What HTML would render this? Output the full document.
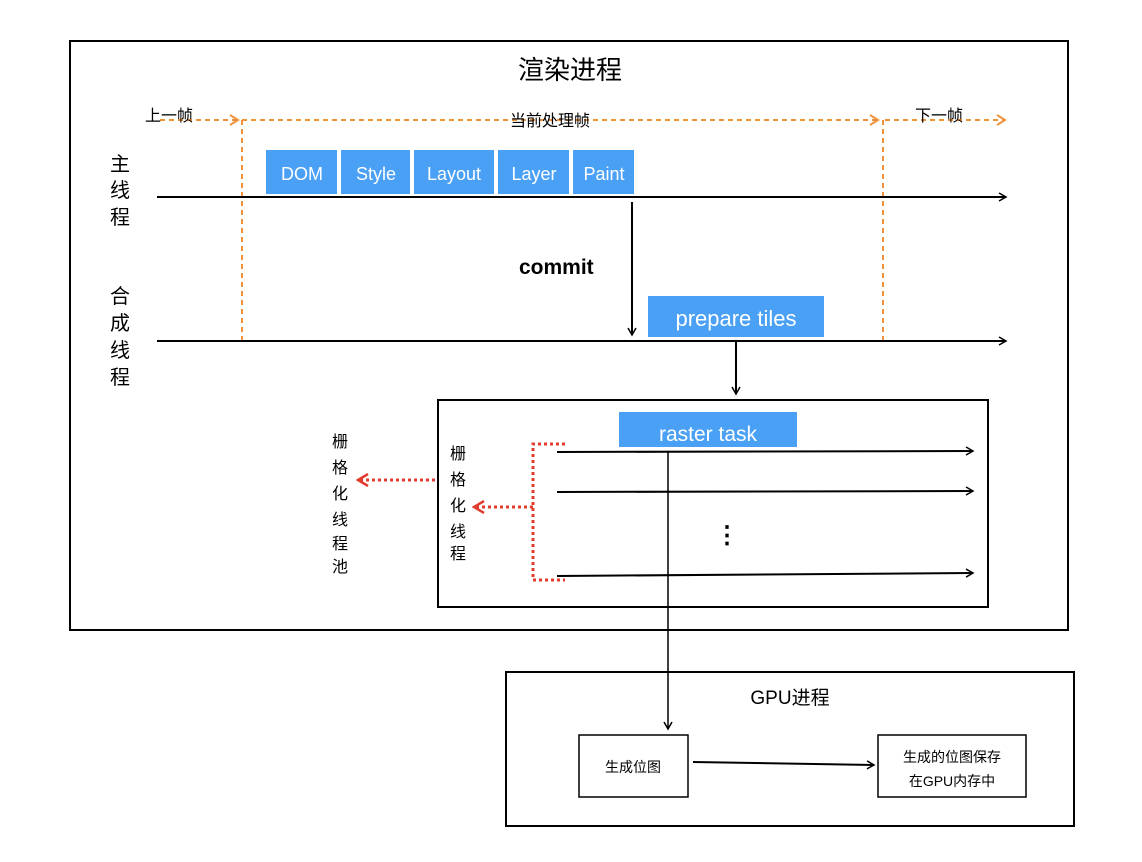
<!DOCTYPE html>
<html><head><meta charset="utf-8"><style>
html,body{margin:0;padding:0;background:#fff;}
svg text{font-family:"Liberation Sans","Noto Sans CJK SC",sans-serif;}
</style></head><body>
<svg width="1142" height="857" viewBox="0 0 1142 857" xmlns="http://www.w3.org/2000/svg">
<defs>
<marker id="ab" markerWidth="10" markerHeight="10" refX="8" refY="5" orient="auto" markerUnits="userSpaceOnUse"><path d="M1,1 L8,5 L1,9" fill="none" stroke="#000" stroke-width="1.5"/></marker>
<marker id="ao" markerWidth="12" markerHeight="12" refX="9" refY="6" orient="auto" markerUnits="userSpaceOnUse"><path d="M1,1 L9,6 L1,11" fill="none" stroke="#f0923a" stroke-width="2"/></marker>
<marker id="ar" markerWidth="14" markerHeight="14" refX="12" refY="7" orient="auto" markerUnits="userSpaceOnUse"><path d="M2,1 L12,7 L2,13" fill="none" stroke="#e23c2e" stroke-width="2.5"/></marker>
</defs>
<rect x="70" y="41" width="998" height="589" fill="none" stroke="#000" stroke-width="2"/>
<text x="570" y="79" font-size="26" text-anchor="middle">渲染进程</text>
<g stroke="#f0923a" stroke-width="2" stroke-dasharray="5,4" fill="none">
<line x1="160" y1="120" x2="238" y2="120" marker-end="url(#ao)"/>
<line x1="242" y1="120" x2="878" y2="120" marker-end="url(#ao)"/>
<line x1="885" y1="120" x2="1005" y2="120" marker-end="url(#ao)"/>
<line x1="242" y1="120" x2="242" y2="340"/>
<line x1="883" y1="120" x2="883" y2="340"/>
</g>
<text x="145" y="121" font-size="16">上一帧</text>
<text x="510" y="126" font-size="16">当前处理帧</text>
<text x="915" y="121" font-size="16">下一帧</text>
<g fill="#4aa0f5">
<rect x="266" y="150" width="71" height="44"/><rect x="341" y="150" width="69" height="44"/>
<rect x="414" y="150" width="80" height="44"/><rect x="498" y="150" width="71" height="44"/>
<rect x="573" y="150" width="61" height="44"/>
<rect x="648" y="296" width="176" height="41"/>
<rect x="619" y="412" width="178" height="35"/>
</g>
<g fill="#fff" font-size="18" text-anchor="middle">
<text x="302" y="180">DOM</text><text x="376" y="180">Style</text><text x="454" y="180">Layout</text>
<text x="534" y="180">Layer</text><text x="604" y="180">Paint</text>
<text x="736" y="326" font-size="22">prepare tiles</text>
<text x="708" y="441" font-size="21">raster task</text>
</g>
<g font-size="20" text-anchor="middle"><text x="120" y="171">主</text><text x="120" y="197">线</text><text x="120" y="224">程</text>
<text x="120" y="303">合</text><text x="120" y="330">成</text><text x="120" y="357">线</text><text x="120" y="384">程</text></g>
<g stroke="#000" stroke-width="2" fill="none">
<line x1="157" y1="197" x2="1006" y2="197" marker-end="url(#ab)"/>
<line x1="157" y1="341" x2="1006" y2="341" marker-end="url(#ab)"/>
<line x1="632" y1="202" x2="632" y2="335" marker-end="url(#ab)"/>
<line x1="736" y1="341" x2="736" y2="394" marker-end="url(#ab)"/>
<rect x="438" y="400" width="550" height="207"/>
<line x1="557" y1="452" x2="973" y2="451" marker-end="url(#ab)"/>
<line x1="557" y1="492" x2="973" y2="491" marker-end="url(#ab)"/>
<line x1="557" y1="576" x2="973" y2="573" marker-end="url(#ab)"/>
<line x1="693" y1="762" x2="874" y2="765" marker-end="url(#ab)"/>
<rect x="506" y="672" width="568" height="154"/>
</g>
<line x1="668" y1="452" x2="668" y2="729" stroke="#000" stroke-width="1.5" marker-end="url(#ab)"/>
<text x="519" y="274" font-size="21" font-weight="bold">commit</text>
<text x="727" y="543" font-size="24" font-weight="bold" text-anchor="middle">⋮</text>
<g stroke="#e23c2e" stroke-width="3" stroke-dasharray="3,3" fill="none">
<polyline points="565,444 533,444 533,580 565,580"/>
<line x1="533" y1="507" x2="474" y2="507" marker-end="url(#ar)"/>
<line x1="435" y1="480" x2="358" y2="480" marker-end="url(#ar)"/>
</g>
<g font-size="16" text-anchor="middle">
<text x="458" y="459">栅</text><text x="458" y="485">格</text><text x="458" y="511">化</text><text x="458" y="537">线</text><text x="458" y="559">程</text>
<text x="340" y="447">栅</text><text x="340" y="473">格</text><text x="340" y="499">化</text><text x="340" y="525">线</text><text x="340" y="549">程</text><text x="340" y="572">池</text>
</g>
<text x="790" y="704" font-size="19" text-anchor="middle">GPU进程</text>
<rect x="579" y="735" width="109" height="62" fill="none" stroke="#000" stroke-width="1.5"/>
<text x="633" y="772" font-size="14" text-anchor="middle">生成位图</text>
<rect x="878" y="735" width="148" height="62" fill="none" stroke="#000" stroke-width="1.5"/>
<text x="952" y="762" font-size="14" text-anchor="middle">生成的位图保存</text>
<text x="952" y="786" font-size="14" text-anchor="middle">在GPU内存中</text>
</svg>
</body></html>
